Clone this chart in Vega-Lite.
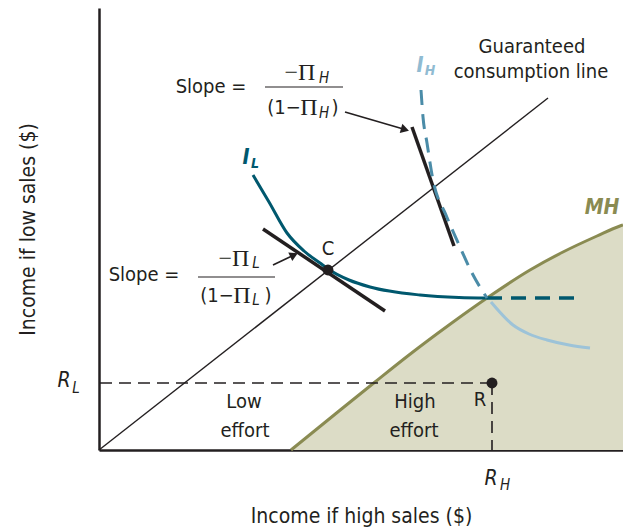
{
  "$schema": "https://vega.github.io/schema/vega-lite/v6.json",
  "width": 524,
  "height": 442,
  "autosize": {"type": "none"},
  "padding": {"left": 99, "top": 8, "right": 0, "bottom": 79},
  "config": {
    "view": {"stroke": null},
    "font": "DejaVu Sans Condensed, Roboto, sans-serif",
    "text": {"font": "DejaVu Sans Condensed, Roboto, sans-serif", "color": "#231f20", "align": "center", "baseline": "middle"}
  },
  "datasets": {
    "mh": [{"x":192,"y":0},{"x":240,"y":39},{"x":276,"y":68},{"x":310,"y":95},{"x":350,"y":125},{"x":388,"y":152},{"x":431,"y":180},{"x":464,"y":198},{"x":498,"y":214},{"x":521,"y":224},{"x":524,"y":225}],
    "il": [{"x":154,"y":275},{"x":170,"y":248},{"x":188,"y":217},{"x":205,"y":199},{"x":221,"y":187},{"x":229,"y":181},{"x":250,"y":170},{"x":271,"y":163},{"x":321,"y":155},{"x":360,"y":152.5},{"x":388,"y":152}],
    "ildash": [{"x":388,"y":152},{"x":483,"y":152}],
    "ihdash": [{"x":322,"y":360},{"x":324,"y":333},{"x":328,"y":307},{"x":334,"y":270},{"x":347,"y":235},{"x":361,"y":203},{"x":373,"y":177},{"x":388,"y":152}],
    "ihsolid": [{"x":392,"y":148},{"x":414,"y":125},{"x":430,"y":116},{"x":448,"y":110},{"x":470,"y":105},{"x":491,"y":102}],
    "guar": [{"x":0,"y":0,"x2":449,"y2":352}],
    "tangents": [{"x":164,"y":221,"x2":286,"y2":139},{"x":313,"y":323,"x2":355,"y2":204}],
    "rdash": [{"x":1,"y":67,"x2":393,"y2":67},{"x":393,"y":67,"x2":393,"y2":0}],
    "arrows": [{"x":246,"y":338,"x2":306,"y2":320.5},{"x":174,"y":185,"x2":195,"y2":195}],
    "headH": [{"x":306,"y":320.5}],
    "headL": [{"x":195,"y":195}],
    "bars": [{"x":166,"y":363,"x2":244,"y2":363},{"x":99,"y":173,"x2":176,"y2":173}],
    "pts": [{"x":229,"y":180},{"x":393,"y":67}],
    "sans": [
      {"x":112,"y":363,"t":"Slope ="},
      {"x":45,"y":175,"t":"Slope ="},
      {"x":433,"y":403,"t":"Guaranteed"},
      {"x":432,"y":378,"t":"consumption line"},
      {"x":229,"y":201,"t":"C"},
      {"x":381,"y":50,"t":"R"},
      {"x":145,"y":48,"t":"Low"},
      {"x":146,"y":19,"t":"effort"},
      {"x":316,"y":48,"t":"High"},
      {"x":315,"y":19,"t":"effort"},
      {"x":185,"y":342,"t":"(1−"},
      {"x":236,"y":342,"t":")"},
      {"x":118,"y":154,"t":"(1−"},
      {"x":169,"y":154,"t":")"}
    ],
    "serif": [
      {"x":201,"y":377,"t":"−Π"},
      {"x":210,"y":342,"t":"Π"},
      {"x":135,"y":191,"t":"−Π"},
      {"x":143,"y":154,"t":"Π"}
    ],
    "subs": [
      {"x":225,"y":372,"t":"H"},
      {"x":225,"y":337,"t":"H"},
      {"x":157,"y":187,"t":"L"},
      {"x":157,"y":150,"t":"L"},
      {"x":-23,"y":62,"t":"L"},
      {"x":406,"y":-35,"t":"H"}
    ],
    "rs": [
      {"x":-35,"y":69,"t":"R"},
      {"x":392,"y":-29,"t":"R"}
    ],
    "curvelabels": [
      {"x":147,"y":292,"t":"I","s":"IL"},
      {"x":321,"y":384,"t":"I","s":"IH"},
      {"x":503,"y":242,"t":"MH","s":"MH"}
    ],
    "curvesubs": [
      {"x":156,"y":286,"t":"L","s":"IL"},
      {"x":331,"y":379,"t":"H","s":"IH"}
    ]
  },
  "encoding": {
    "x": {"field": "x", "type": "quantitative", "scale": {"domain": [0, 524], "nice": false, "zero": false},
      "axis": {"domain": true, "domainColor": "#231f20", "domainWidth": 2.5, "ticks": false, "labels": false, "grid": false,
        "title": "Income if high sales ($)", "titleFont": "DejaVu Sans Condensed, Roboto, sans-serif", "titleFontSize": 21, "titleFontWeight": "normal", "titleColor": "#231f20", "titleY": 66, "titleBaseline": "middle"}},
    "y": {"field": "y", "type": "quantitative", "scale": {"domain": [0, 442], "nice": false, "zero": false},
      "axis": {"domain": true, "domainColor": "#231f20", "domainWidth": 2.5, "ticks": false, "labels": false, "grid": false,
        "title": "Income if low sales ($)", "titleFont": "DejaVu Sans Condensed, Roboto, sans-serif", "titleFontSize": 21, "titleFontWeight": "normal", "titleColor": "#231f20", "titleX": -71, "titleY": 221, "titleAngle": -90, "titleAlign": "center", "titleBaseline": "middle"}}
  },
  "layer": [
    {"data": {"name": "mh"}, "mark": {"type": "area", "color": "#dcdcc6", "interpolate": "monotone"}, "encoding": {"y2": {"datum": 0}}},
    {"data": {"name": "mh"}, "mark": {"type": "line", "color": "#8a8b52", "strokeWidth": 3, "interpolate": "monotone"}, "encoding": {}},
    {"data": {"name": "guar"}, "mark": {"type": "rule", "color": "#231f20", "strokeWidth": 1.4}, "encoding": {"x2": {"field": "x2"}, "y2": {"field": "y2"}}},
    {"data": {"name": "rdash"}, "mark": {"type": "rule", "color": "#231f20", "strokeWidth": 1.6, "strokeDash": [12, 7]}, "encoding": {"x2": {"field": "x2"}, "y2": {"field": "y2"}}},
    {"data": {"name": "tangents"}, "mark": {"type": "rule", "color": "#231f20", "strokeWidth": 3.5}, "encoding": {"x2": {"field": "x2"}, "y2": {"field": "y2"}}},
    {"data": {"name": "il"}, "mark": {"type": "line", "color": "#00586e", "strokeWidth": 3, "interpolate": "monotone"}, "encoding": {}},
    {"data": {"name": "ildash"}, "mark": {"type": "line", "color": "#00586e", "strokeWidth": 3.5, "strokeDash": [15, 9]}, "encoding": {}},
    {"data": {"name": "ihdash"}, "mark": {"type": "line", "color": "#4b8ca8", "strokeWidth": 3, "strokeDash": [15, 9], "interpolate": "monotone"}, "encoding": {}},
    {"data": {"name": "ihsolid"}, "mark": {"type": "line", "color": "#9dc3d8", "strokeWidth": 3, "interpolate": "monotone"}, "encoding": {}},
    {"data": {"name": "arrows"}, "mark": {"type": "rule", "color": "#231f20", "strokeWidth": 1.6}, "encoding": {"x2": {"field": "x2"}, "y2": {"field": "y2"}}},
    {"data": {"name": "headH"}, "mark": {"type": "point", "shape": "triangle-up", "filled": true, "color": "#231f20", "size": 90, "angle": 106, "opacity": 1}, "encoding": {}},
    {"data": {"name": "headL"}, "mark": {"type": "point", "shape": "triangle-up", "filled": true, "color": "#231f20", "size": 90, "angle": 65, "opacity": 1}, "encoding": {}},
    {"data": {"name": "bars"}, "mark": {"type": "rule", "color": "#231f20", "strokeWidth": 1.2}, "encoding": {"x2": {"field": "x2"}, "y2": {"field": "y2"}}},
    {"data": {"name": "pts"}, "mark": {"type": "circle", "color": "#231f20", "size": 120, "opacity": 1}, "encoding": {}},
    {"data": {"name": "sans"}, "mark": {"type": "text", "fontSize": 20}, "encoding": {"text": {"field": "t"}}},
    {"data": {"name": "serif"}, "mark": {"type": "text", "fontSize": 24, "font": "Liberation Serif"}, "encoding": {"text": {"field": "t"}}},
    {"data": {"name": "subs"}, "mark": {"type": "text", "fontSize": 15, "fontStyle": "italic"}, "encoding": {"text": {"field": "t"}}},
    {"data": {"name": "rs"}, "mark": {"type": "text", "fontSize": 21, "fontStyle": "italic"}, "encoding": {"text": {"field": "t"}}},
    {"data": {"name": "curvelabels"}, "mark": {"type": "text", "fontSize": 21, "fontStyle": "italic", "fontWeight": "bold"},
      "encoding": {"text": {"field": "t"}, "color": {"field": "s", "type": "nominal", "scale": {"domain": ["IL", "IH", "MH"], "range": ["#00586e", "#90bbd2", "#8a8b52"]}, "legend": null}}},
    {"data": {"name": "curvesubs"}, "mark": {"type": "text", "fontSize": 14, "fontStyle": "italic", "fontWeight": "bold"},
      "encoding": {"text": {"field": "t"}, "color": {"field": "s", "type": "nominal", "scale": {"domain": ["IL", "IH", "MH"], "range": ["#00586e", "#90bbd2", "#8a8b52"]}, "legend": null}}}
  ]
}
